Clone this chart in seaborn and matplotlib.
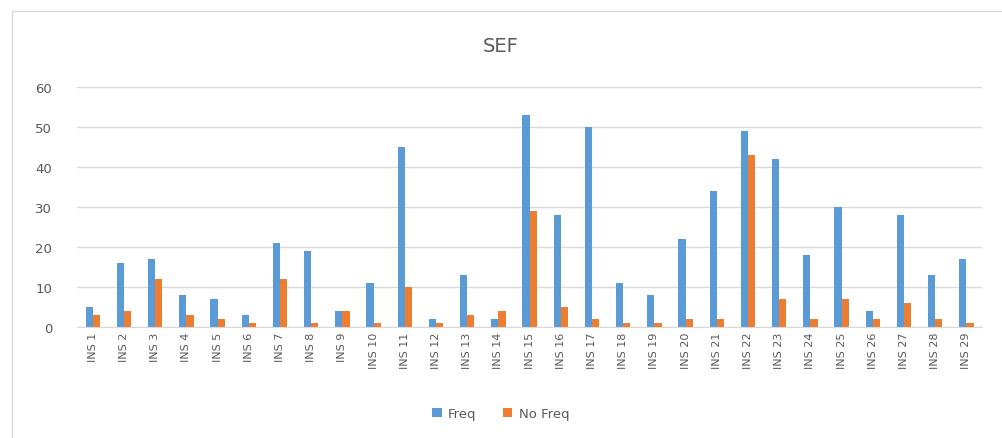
import numpy as np
import pandas as pd
import matplotlib
matplotlib.use("Agg")
import matplotlib.pyplot as plt
from matplotlib.patches import Rectangle
import seaborn as sns

categories = [f"INS {i}" for i in range(1, 30)]
freq = [5, 16, 17, 8, 7, 3, 21, 19, 4, 11, 45, 2, 13, 2, 53, 28, 50, 11, 8,
        22, 34, 49, 42, 18, 30, 4, 28, 13, 17]
no_freq = [3, 4, 12, 3, 2, 1, 12, 1, 4, 1, 10, 1, 3, 4, 29, 5, 2, 1, 1,
           2, 2, 43, 7, 2, 7, 2, 6, 2, 1]

df = pd.DataFrame({"cat": categories * 2,
                   "value": freq + no_freq,
                   "series": ["Freq"] * 29 + ["No Freq"] * 29})

sns.set_style("white")
plt.rcParams['font.family'] = ['DejaVu Sans']

fig, ax = plt.subplots(figsize=(10.02, 4.39), dpi=100)
fig.subplots_adjust(left=0.077, right=0.98, top=0.80, bottom=0.253)

sns.barplot(data=df, x="cat", y="value", hue="series",
            palette=["#5B9BD5", "#ED7D31"], width=0.46, ax=ax,
            legend=True, saturation=1, linewidth=0, edgecolor="none")

ax.set_ylim(0, 60)
ax.set_yticks(range(0, 61, 10))
ax.yaxis.grid(True, color="#D9D9D9", linewidth=1)
ax.set_axisbelow(True)
for s in ["top", "right", "left"]:
    ax.spines[s].set_visible(False)
ax.spines["bottom"].set_color("#D9D9D9")
ax.set_xlabel("")
ax.set_ylabel("")
ax.tick_params(axis="x", rotation=90, labelsize=8, colors="#595959", length=0)
ax.tick_params(axis="y", labelsize=9.5, colors="#595959", length=0, pad=18)

fig.text(0.5, 0.895, "SEF", ha="center", va="center", fontsize=14, color="#595959")

ax.legend(loc="center", bbox_to_anchor=(0.5, 0.055), bbox_transform=fig.transFigure,
          ncol=2, frameon=False, fontsize=9.5, labelcolor="#595959",
          handlelength=0.7, handleheight=0.7, columnspacing=2.0, handletextpad=0.5)

fig.patches.append(Rectangle((0.012, -0.01), 0.99, 0.983, transform=fig.transFigure,
                             fill=False, edgecolor="#D9D9D9", linewidth=1))

fig.savefig("out.png", dpi=100)
